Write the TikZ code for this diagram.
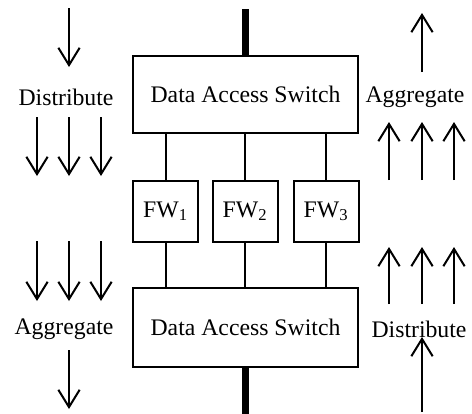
\documentclass[tikz,border=0pt]{standalone}
\usepackage{fontspec}
\setmainfont{Liberation Serif}
\usetikzlibrary{arrows.meta}

\tikzset{
  box/.style={draw, line width=1.5pt, inner sep=0pt, font=\fontsize{17.8}{20}\selectfont},
  lbl/.style={inner sep=0.75pt, font=\fontsize{17.8}{20}\selectfont},
  flow/.style={line width=1.5pt, -{Straight Barb[length=13pt,width=16pt,line width=1.5pt]}},
  trunk/.style={line width=5.25pt},
  link/.style={line width=1.5pt}
}

\begin{document}
\begin{tikzpicture}[x=0.75pt,y=0.75pt,yscale=-1]
\useasboundingbox (0,0) rectangle (472,414);

%Switches
\node[box, minimum width=168.75pt, minimum height=57.75pt] (sw1) at (245.5,94.5) {Data Access Switch};
\node[box, minimum width=168.75pt, minimum height=59.25pt] (sw2) at (245.5,327.5) {Data Access Switch};

%Firewalls
\foreach \i/\x in {1/165.5, 2/245, 3/326}
  \node[box, minimum width=48.75pt, minimum height=45.75pt] (fw\i) at (\x,211.5) {FW\textsubscript{\i}};

%Links between switches and firewalls
\foreach \i in {1,2,3} {
  \draw[link] (fw\i.north) -- (fw\i.north |- sw1.south);
  \draw[link] (fw\i.south) -- (fw\i.south |- sw2.north);
}

%Uplink and downlink
\coordinate (up) at (245.5,9);
\coordinate (down) at (245.5,414);
\draw[trunk] (sw1.north) -- (up);
\draw[trunk] (sw2.south) -- (down);

% Text Node
\node[lbl] (dist1) at (66,97) {Distribute};
\node[lbl] (aggr1) at (415,97) {Aggregate};
\node[lbl] (aggr2) at (64,329) {Aggregate};
\node[lbl] (dist2) at (419,329) {Distribute};

%Traffic arrows, left side
\draw[flow] (69,8) -- (69,67);
\foreach \x in {37,69,101} {
  \draw[flow] (\x,117) -- (\x,176);
  \draw[flow] (\x,241) -- (\x,301);
}
\draw[flow] (69,350) -- (69,409);

%Traffic arrows, right side
\draw[flow] (422,72) -- (422,13);
\foreach \x in {389,422,454} {
  \draw[flow] (\x,180) -- (\x,122);
  \draw[flow] (\x,304) -- (\x,247);
}
\draw[flow] (422,412) -- (422,337);
\end{tikzpicture}
\end{document}
